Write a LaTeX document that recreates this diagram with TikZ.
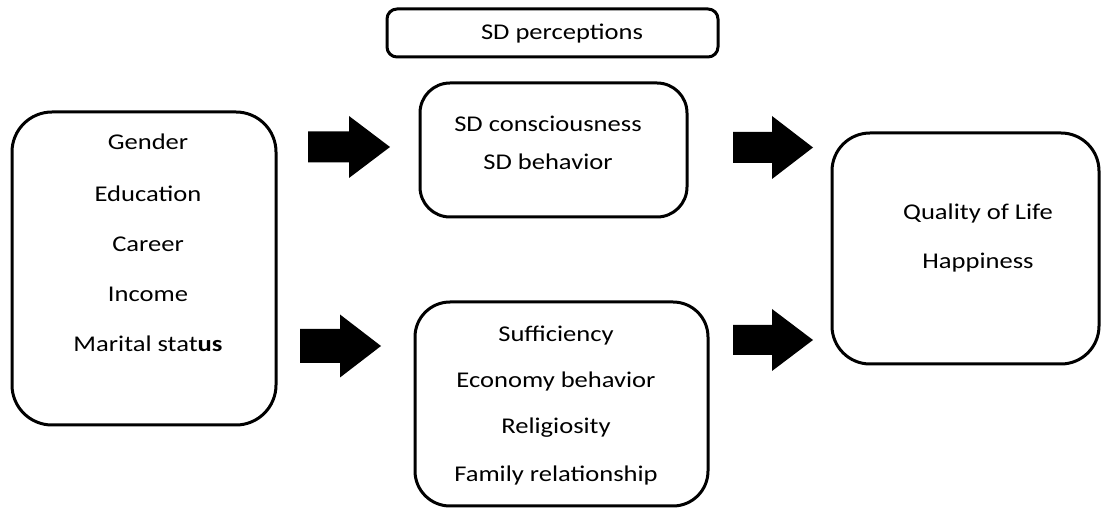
\documentclass[tikz,border=0pt]{standalone}
\usepackage{fontspec}
\setmainfont{Carlito}[FakeStretch=1.18]
\newcommand\barrow[6]{\fill[blk] (#1,#4-#5) -- (#2,#4-#5) -- (#2,#4-#6) -- (#3,#4) -- (#2,#4+#6) -- (#2,#4+#5) -- (#1,#4+#5) -- cycle;}
\begin{document}
\begin{tikzpicture}[x=1pt,y=-1pt,
  box/.style={draw=black, line width=3pt, rounded corners=#1, inner sep=0pt},
  lbl/.style={anchor=base, font=\fontsize{22.5}{27}\selectfont, inner sep=0pt},
  blk/.style={fill=black}]
\useasboundingbox (0,0) rectangle (1101,510);
% boxes
\node[box=10pt, minimum width=331pt, minimum height=48pt] (perc) at (552.5,33) {};
\node[box=40pt, minimum width=264pt, minimum height=313pt] (demo) at (144,268.5) {};
\node[box=30pt, minimum width=267pt, minimum height=134pt] (sd) at (553.5,150) {};
\node[box=35pt, minimum width=293pt, minimum height=204pt] (suff) at (561.5,404) {};
\node[box=38pt, minimum width=267pt, minimum height=231pt] (qol) at (965.5,248.5) {};
% labels
\node[lbl] (tperc) at (562,40) {SD perceptions};
\node[lbl] (t1) at (148,150) {Gender};
\node[lbl] (t2) at (148,202) {Education};
\node[lbl] (t3) at (148,252) {Career};
\node[lbl] (t4) at (148,302) {Income};
\node[lbl] (t5) at (148,352) {Marital stat\textbf{us}};
\node[lbl] (s1) at (548,132) {SD consciousness};
\node[lbl] (s2) at (548,170) {SD behavior};
\node[lbl] (b1) at (556,342) {Sufficiency};
\node[lbl] (b2) at (556,388) {Economy behavior};
\node[lbl] (b3) at (556,434) {Religiosity};
\node[lbl] (b4) at (556,482) {Family relationship};
\node[lbl] (q1) at (978,220) {Quality of Life};
\node[lbl] (q2) at (978,269) {Happiness};
% block arrows
\barrow{308}{349}{390}{147}{15.5}{31}
\barrow{300}{340}{381}{346}{17}{31.5}
\barrow{733}{772}{813}{147.5}{15.5}{31.5}
\barrow{733}{772}{813}{340}{15}{31}
\end{tikzpicture}
\end{document}
